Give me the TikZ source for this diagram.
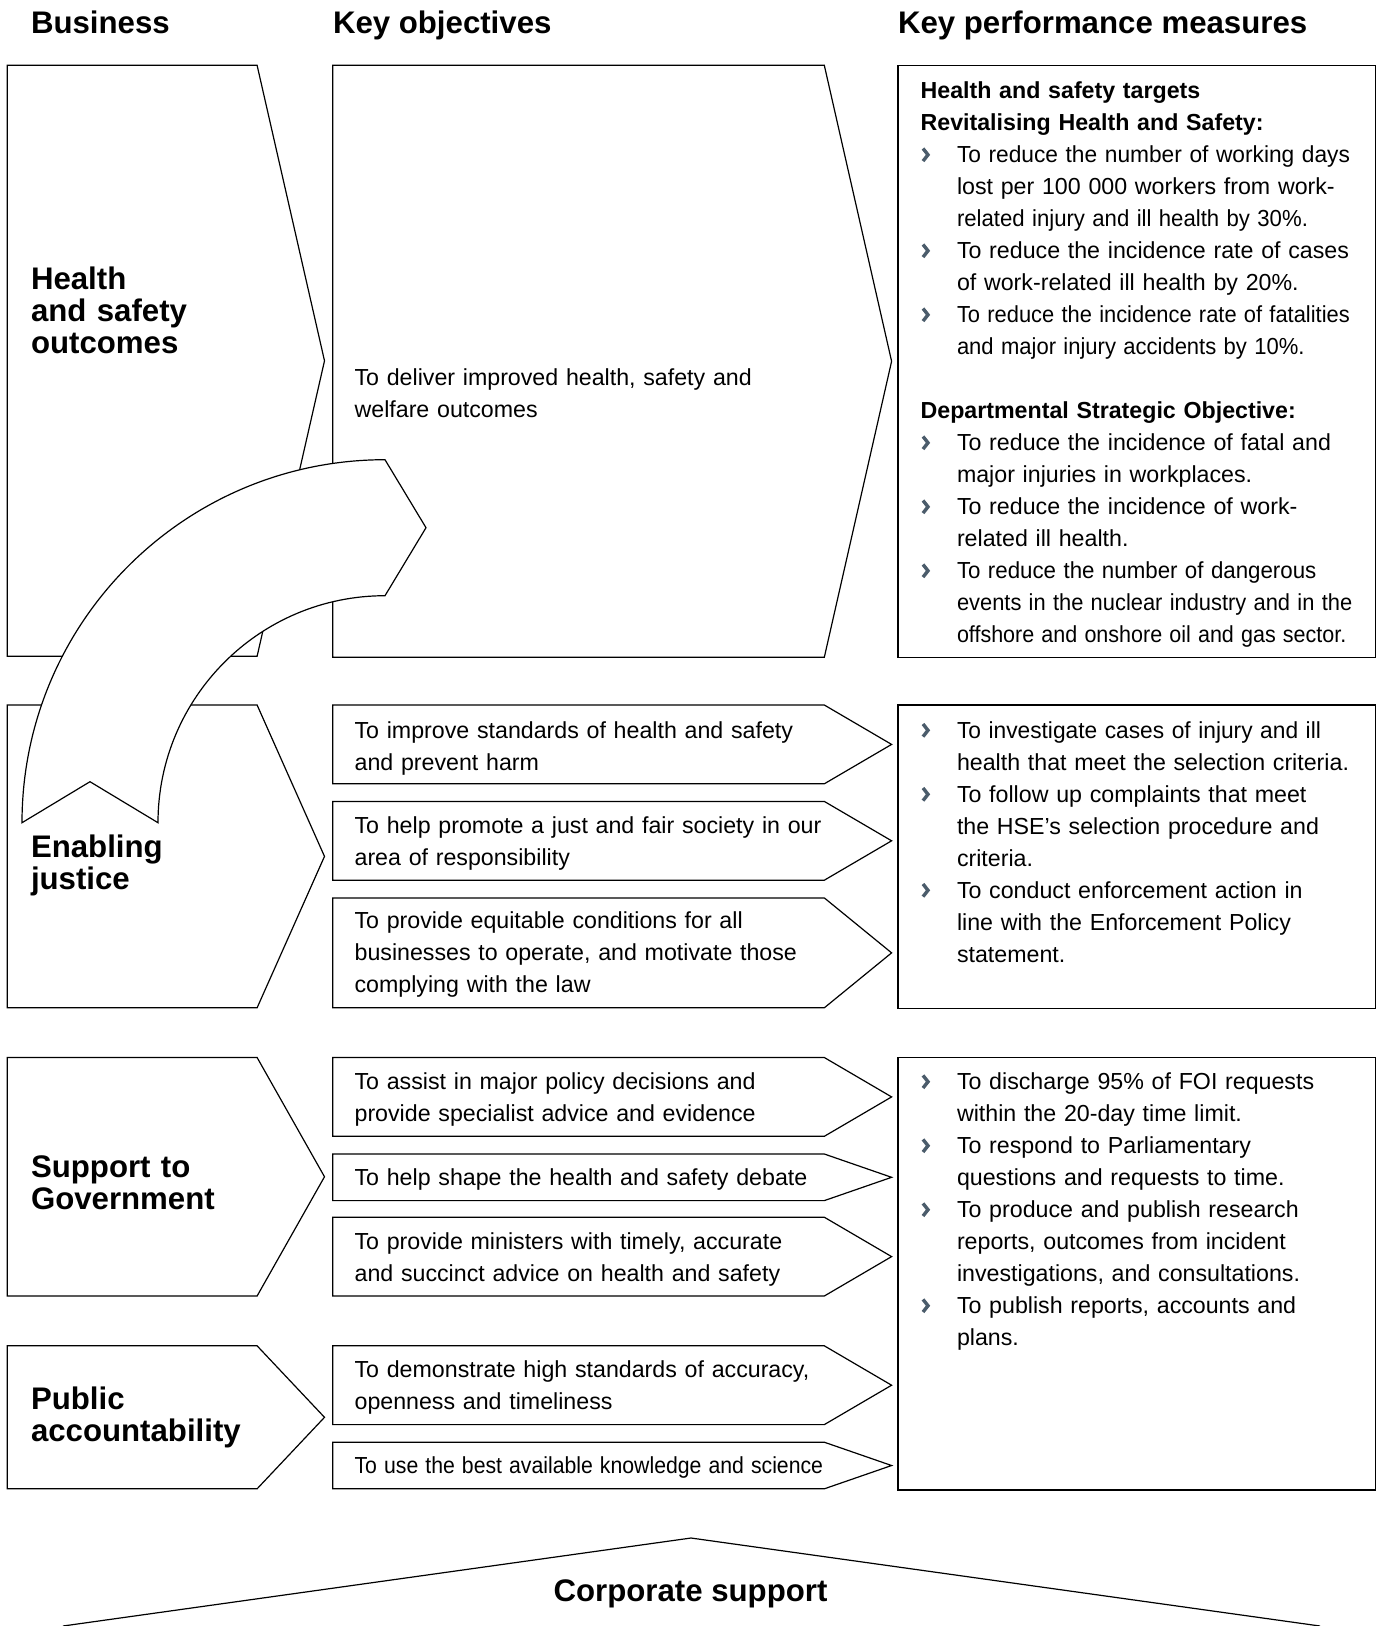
\documentclass[tikz,border=0pt]{standalone}
\usepackage{fontspec}
\setmainfont{Liberation Sans}
\usepackage{graphicx}
\definecolor{bulc}{HTML}{4B5C6B}
\tikzset{
  shp/.style={draw=black, line width=1.2pt, line join=miter, fill=white},
  body/.style={anchor=north west, inner sep=0pt, outer sep=0pt, align=left, text width=1000pt, font=\fontsize{23.2}{32}\selectfont},
  lbl/.style={anchor=north west, inner sep=0pt, outer sep=0pt, align=left, text width=300pt, font=\fontsize{31.2}{32}\selectfont\bfseries},
  hdr/.style={inner sep=0pt, outer sep=0pt, font=\fontsize{31.2}{32}\selectfont\bfseries},
  bulstyle/.style={draw=bulc, line width=3.4pt, line join=miter, line cap=butt},
}
\newcommand{\fs}{\rule{0pt}{24pt}}
\newcommand{\fb}{\rule{0pt}{30pt}}
\newcommand{\ii}{\hspace*{36.4pt}}
\newcommand{\sx}[2]{\scalebox{#1}[1]{#2}}
\newcommand{\lchev}[2]{\draw[shp] (7.3,#1) -- (257.1,#1) -- (324.5,{(#1+#2)/2}) -- (257.1,#2) -- (7.3,#2) -- cycle;}
\newcommand{\mchev}[2]{\draw[shp] (332.8,#1) -- (824.3,#1) -- (891.6,{(#1+#2)/2}) -- (824.3,#2) -- (332.8,#2) -- cycle;}
\newcommand{\rbox}[2]{\draw[shp] (897.9,#1) rectangle (1375.8,#2);}
\newcommand{\bul}[1]{\draw[bulstyle] (923,{#1-14}) -- (928,{#1-7.7}) -- (923,{#1-1.4});}
\begin{document}
\begin{tikzpicture}[x=1pt,y=-1pt]
\useasboundingbox[fill=white] (0,0) rectangle (1381,1626);

% headers
\node[hdr, anchor=base west] (hbus) at (31,33.6) {Business};
\node[hdr, anchor=base west] (hkey) at (333,33.6) {Key objectives};
\node[hdr, anchor=base west] (hkpm) at (898,33.6) {Key performance measures};

% left column chevrons
\lchev{65.3}{656.3}
\lchev{705.0}{1007.8}
\lchev{1057.5}{1296.0}
\lchev{1345.8}{1488.8}

% middle column chevrons
\mchev{65.3}{657.3}
\mchev{705.0}{783.8}
\mchev{801.4}{880.2}
\mchev{897.9}{1007.8}
\mchev{1057.5}{1136.3}
\mchev{1154.0}{1200.6}
\mchev{1217.2}{1296.0}
\mchev{1345.8}{1424.6}
\mchev{1442.2}{1488.8}

% right column boxes
\rbox{65.3}{657.3}
\rbox{705.0}{1008.8}
\rbox{1057.5}{1489.9}

% curved arrow
\draw[shp] (22,822.7) arc[start angle=180, end angle=270, radius=363]
  -- (426,527.7) -- (385,595.7)
  arc[start angle=270, end angle=180, radius=227]
  -- (90,781.7) -- cycle;

% corporate support roof
\coordinate (cl) at (63,1626);
\coordinate (ca) at (691,1538);
\coordinate (cr) at (1320,1626);
\draw[line width=1.2pt, line join=miter] (cl) -- (ca) -- (cr);
\node[hdr, anchor=base] (corp) at (690.5,1601.3) {Corporate support};

% left labels
\node[lbl] (lhs) at (31,259.7) {\fb Health\\and safety\\outcomes};
\node[lbl] (lej) at (31,827.9) {\fb Enabling\\justice};
\node[lbl] (lsg) at (31,1147.2) {\fb Support to\\Government};
\node[lbl] (lpa) at (31,1379.4) {\fb Public\\accountability};

% middle texts
\node[body] (m1) at (354.6,361.4) {\fs To deliver improved health, safety and\\welfare outcomes};
\node[body] (m2) at (354.6,714.0) {\fs To improve standards of health and safety\\and prevent harm};
\node[body] (m3) at (354.6,809.3) {\fs To help promote a just and fair society in our\\area of responsibility};
\node[body] (m4) at (354.6,904.7) {\fs To provide equitable conditions for all\\businesses to operate, and motivate those\\complying with the law};
\node[body] (m5) at (354.6,1065.4) {\fs To assist in major policy decisions and\\provide specialist advice and evidence};
\node[body] (m6) at (354.6,1161.8) {\fs To help shape the health and safety debate};
\node[body] (m7) at (354.6,1225.0) {\fs To provide ministers with timely, accurate\\and succinct advice on health and safety};
\node[body] (m8) at (354.6,1353.6) {\fs To demonstrate high standards of accuracy,\\openness and timeliness};
\node[body] (m9) at (354.6,1449.0) {\fs \sx{0.915}{To use the best available knowledge and science}};

% right texts
\node[body] (r1) at (920.6,74.5) {\fs\textbf{Health and safety targets}\\
\textbf{Revitalising Health and Safety:}\\
\ii \sx{0.98}{To reduce the number of working days}\\
\ii lost per 100~000 workers from work-\\
\ii \sx{0.955}{related injury and ill health by 30\%.}\\
\ii To reduce the incidence rate of cases\\
\ii of work-related ill health by 20\%.\\
\ii \sx{0.943}{To reduce the incidence rate of fatalities}\\
\ii \sx{0.949}{and major injury accidents by 10\%.}\\[32pt]
\textbf{Departmental Strategic Objective:}\\
\ii To reduce the incidence of fatal and\\
\ii major injuries in workplaces.\\
\ii To reduce the incidence of work-\\
\ii related ill health.\\
\ii \sx{0.961}{To reduce the number of dangerous}\\
\ii \sx{0.943}{events in the nuclear industry and in the}\\
\ii \sx{0.927}{offshore and onshore oil and gas sector.}};

\node[body] (r2) at (920.6,714.0) {\fs\ii \sx{0.98}{To investigate cases of injury and ill}\\
\ii health that meet the selection criteria.\\
\ii To follow up complaints that meet\\
\ii the HSE’s selection procedure and\\
\ii criteria.\\
\ii To conduct enforcement action in\\
\ii line with the Enforcement Policy\\
\ii statement.};

\node[body] (r3) at (920.6,1065.4) {\fs\ii To discharge 95\% of FOI requests\\
\ii within the 20-day time limit.\\
\ii To respond to Parliamentary\\
\ii questions and requests to time.\\
\ii To produce and publish research\\
\ii reports, outcomes from incident\\
\ii investigations, and consultations.\\
\ii To publish reports, accounts and\\
\ii plans.};

% bullets
\foreach \b in {162.5,258.5,322.5,450.5,514.5,578.5,738,802,898,1089.4,1153.4,1217.4,1313.4}{\bul{\b}}
\end{tikzpicture}
\end{document}
